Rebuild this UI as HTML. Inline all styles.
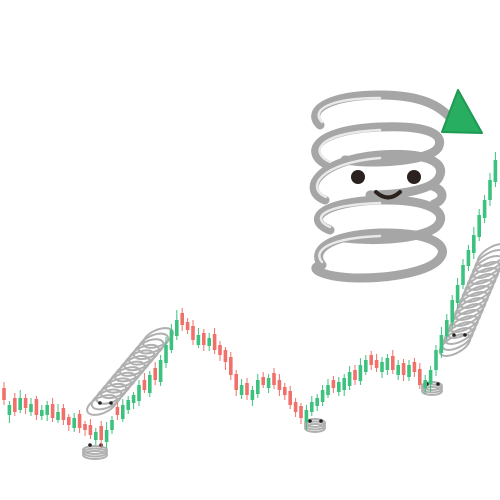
<!DOCTYPE html>
<html><head><meta charset="utf-8"><style>
html,body{margin:0;padding:0;background:#fff;width:500px;height:500px;overflow:hidden}
</style></head><body>
<svg id="chart" width="500" height="500" viewBox="0 0 500 500" xmlns="http://www.w3.org/2000/svg">
<g id="springs" fill="none" stroke="#b0b0b0"></g>
<g id="candles"></g>
<g id="mascot">
  <g fill="none" stroke="#a6a6a6" stroke-width="9" stroke-linecap="round">
    <path d="M322 265 C310 250 330 235 380 233 C430 232 450 245 440 258 C430 272 390 278 360 278 C325 278 305 268 322 265" />
    <path d="M330 230 C305 220 320 202 380 200 C430 199 448 212 438 225 C428 238 380 242 345 238" />
    <path d="M325 200 C300 190 318 160 380 155 C420 152 445 160 440 175 C436 190 400 195 370 195" />
    <path d="M328 165 C305 155 310 130 380 127 C430 125 445 135 438 148 C430 160 380 165 345 160" />
    <path d="M320 125 C305 110 330 95 380 95 C420 95 440 105 452 120" />
    <path d="M432 186 C445 190 445 200 434 204" />
  </g>
  <g fill="none" stroke="#e9e9e9" stroke-width="2.5" stroke-linecap="round">
    <path d="M322 262 C312 250 330 238 380 236" />
    <path d="M330 227 C310 218 322 205 380 203" />
    <path d="M326 197 C305 188 320 163 380 158" />
    <path d="M330 162 C310 153 315 133 380 130" />
    <path d="M322 122 C310 110 330 98 380 98" />
  </g>
  <polygon points="458,90 482,133 442,132" fill="#27ae60" stroke="#1e9a52" stroke-width="2" stroke-linejoin="round"/>
  <circle cx="358" cy="177" r="7" fill="#2b2220"/>
  <circle cx="414" cy="177" r="7" fill="#2b2220"/>
  <path d="M376 192 Q388 203 400 192" fill="none" stroke="#2b2220" stroke-width="4" stroke-linecap="round"/>
</g>
</svg>
<script>
const prices=[100,95,88,102,92,96,85,90,95,82,88,
80,75,82,72,70,65,68,60,
70,80,85,95,100,105,115,110,125,120,
140,155,170,180,175,170,
160,165,155,162,150,145,138,125,110,115,
105,110,120,115,122,115,110,105,
95,88,82,90,98,102,
110,115,112,118,122,128,120,135,
140,135,132,138,142,130,135,125,
135,128,115,120,130,
150,165,180,200,215,235,250,265,285,300,320,340];
const bodies=[12,-10,14,-12,10,-8,16,-6,-10,14,-8,
12,8,-10,14,6,10,-8,14,
-12,-10,8,-14,-10,-8,-16,10,-18,12,
-22,-18,-20,-16,12,8,
14,-10,12,-8,16,10,12,18,16,-10,
12,-10,-14,8,-10,12,10,8,
14,10,12,-12,-10,-8,
-12,-10,8,-10,-12,-14,10,-16,
-12,10,8,-10,-12,14,-10,12,
-12,10,16,-8,-14,
-20,-18,-16,-22,-18,-20,-16,-18,-22,-18,-20,-22];
const wickUp=[6,4,5,8,4,6,3,5,4,6,8,4,3,5,4,3,6,4,5,8,4,5,6,4,3,5,7,4,6,5,8,6,10,5,4,6,7,4,5,6,4,3,5,4,6,5,4,6,5,4,5,6,4,5,4,3,5,6,4,5,6,4,5,4,6,5,7,5,4,6,5,4,6,5,4,5,4,6,5,4,5,8,6,5,7,6,5,8,6,5,7,8];
const wickDn=[5,8,4,3,6,4,5,4,6,4,3,5,6,4,5,6,4,5,8,6,4,5,3,4,6,5,3,4,5,4,5,3,4,6,4,5,3,6,5,4,6,8,5,6,4,5,6,4,3,5,4,6,5,4,5,6,8,4,5,4,3,5,4,6,4,5,4,3,5,4,6,5,4,5,6,4,5,4,6,8,6,5,4,6,5,4,5,6,4,5,6,5];
const xs=i=>4+i*5.4;
const ys=v=>500-v;
const g=document.getElementById('candles');
const NS='http://www.w3.org/2000/svg';
prices.forEach((c,i)=>{
  const o=c+bodies[i],up=c>=o,col=up?'#3cc27f':'#f0706a';
  const hi=Math.max(o,c)+wickUp[i],lo=Math.min(o,c)-wickDn[i];
  const w=document.createElementNS(NS,'line');
  
  
  w.setAttribute('x1',xs(i));w.setAttribute('x2',xs(i));
  w.setAttribute('y1',ys(hi));w.setAttribute('y2',ys(lo));
  w.setAttribute('stroke',col);w.setAttribute('stroke-width','1');
  g.appendChild(w);
  const r=document.createElementNS(NS,'rect');
  
  
  r.setAttribute('x',xs(i)-1.8);r.setAttribute('width',3.6);
  r.setAttribute('y',ys(Math.max(o,c)));r.setAttribute('height',Math.max(1.5,Math.abs(c-o)));
  r.setAttribute('fill',col);
  g.appendChild(r);
});
const sg=document.getElementById('springs');
function coil(x0,y0,x1,y1,n,rx,ry,rot){
  for(let k=0;k<n;k++){
    const t=n>1?k/(n-1):0;
    const e=document.createElementNS(NS,'ellipse');
    
    
    const cx=x0+(x1-x0)*t,cy=y0+(y1-y0)*t;
    e.setAttribute('cx',cx);e.setAttribute('cy',cy);
    e.setAttribute('rx',rx);e.setAttribute('ry',ry);
    e.setAttribute('transform','rotate('+rot+' '+cx+' '+cy+')');
    e.setAttribute('stroke-width','2');
    sg.appendChild(e);
  }
}
coil(102,405,158,338,13,16,8,-25);
coil(455,345,493,255,16,17,8,-30);
coil(95,455,95,450,3,12,4,0);
coil(315,428,315,423,3,10,4,0);
coil(432,391,432,386,3,10,4,0);
[[90,445],[101,445],[310,421],[321,421],[427,384],[438,384],[454,335],[465,335],[100,403],[111,403]].forEach(p=>{
  const d=document.createElementNS(NS,'circle');
  
  
  d.setAttribute('cx',p[0]);d.setAttribute('cy',p[1]);d.setAttribute('r',1.8);
  d.setAttribute('fill','#222');d.setAttribute('stroke','none');
  sg.appendChild(d);
});
</script>
</body></html>
